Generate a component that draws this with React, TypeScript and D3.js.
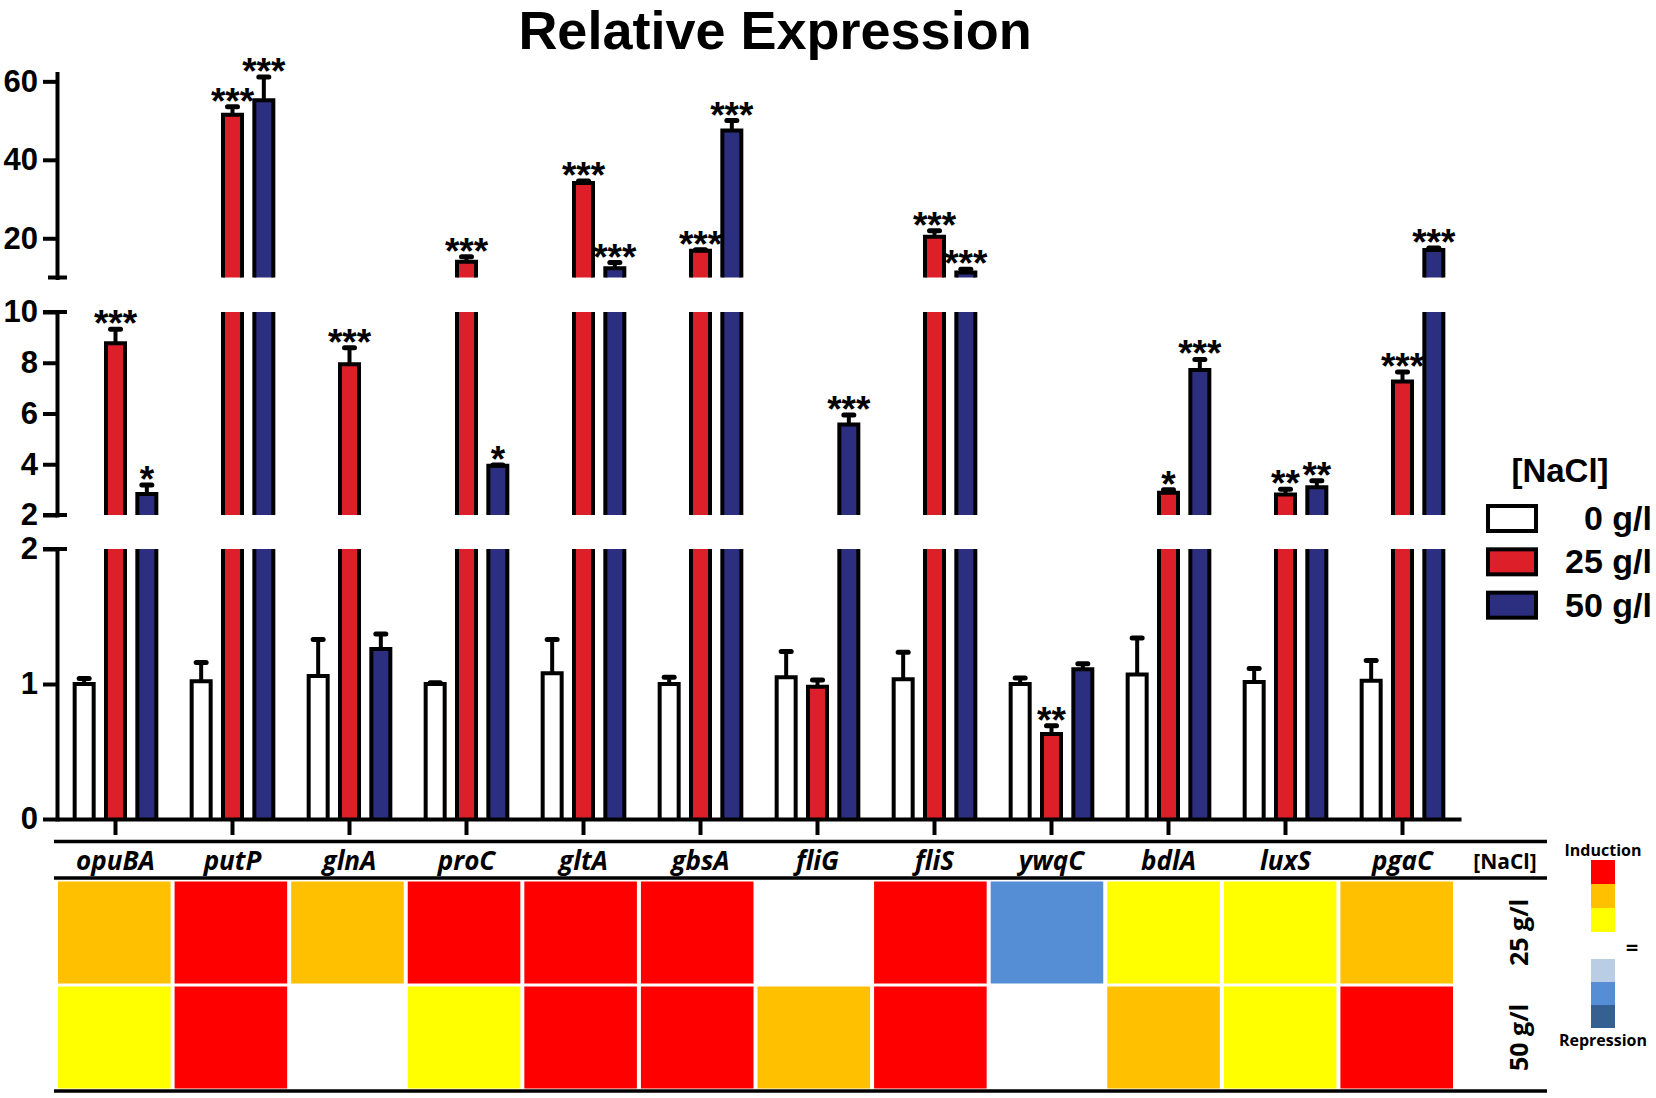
import React, { useEffect, useRef } from 'react';
import * as d3 from 'd3';

// genes on the x axis
const genes = ['opuBA', 'putP', 'glnA', 'proC', 'gltA', 'gbsA', 'fliG', 'fliS', 'ywqC', 'bdlA', 'luxS', 'pgaC'];
const conditions = ['0 g/l', '25 g/l', '50 g/l'];

// relative expression (mean) and SEM per NaCl concentration
const mean0 = [1.0, 1.02, 1.06, 1.0, 1.08, 1.0, 1.05, 1.035, 1.0, 1.07, 1.015, 1.025];
const sem0 = [0.04, 0.14, 0.27, 0.01, 0.25, 0.05, 0.19, 0.2, 0.045, 0.27, 0.1, 0.15];
const mean25 = [8.77, 51.5, 7.94, 14.0, 34.1, 16.8, 0.98, 20.4, 0.63, 2.88, 2.81, 7.26];
const sem25 = [0.55, 2.0, 0.65, 1.3, 0.5, 0.25, 0.05, 1.5, 0.06, 0.12, 0.2, 0.38];
const mean50 = [2.83, 55.2, 1.26, 3.94, 12.35, 47.5, 5.57, 11.3, 1.11, 7.71, 3.09, 17.0];
const sem50 = [0.35, 5.9, 0.11, 0.03, 1.45, 2.5, 0.37, 0.8, 0.04, 0.42, 0.26, 0.5];

// significance marks
const sig25 = ['***', '***', '***', '***', '***', '***', '', '***', '**', '*', '**', '***'];
const sig50 = ['*', '***', '', '*', '***', '***', '***', '***', '', '***', '**', '***'];

// heat map levels: 3..1 induction, 0 unchanged, -1..-3 repression
const heatRows = ['25 g/l', '50 g/l'];
const heat25 = [2, 3, 2, 3, 3, 3, 0, 3, -2, 1, 1, 2];
const heat50 = [1, 3, 0, 1, 3, 3, 2, 3, 0, 2, 1, 3];
const heatLevels = [3, 2, 1, 0, -1, -2, -3];
const heatColors = ['#ff0000', '#ffc000', '#ffff00', '#ffffff', '#b9cde5', '#558ed5', '#376092'];

const barFill = ['#ffffff', '#dc1f28', '#2c2f7f'];

const App: React.FC = () => {
  const ref = useRef<SVGSVGElement>(null);

  useEffect(() => {
    if (!ref.current) return;
    const svg = d3.select(ref.current);
    svg.selectAll('*').remove();

    const font = "'Liberation Sans', Arial, sans-serif";
    const font2 = "'Open Sans', 'Noto Sans', sans-serif";

    // title
    svg.append('text')
      .attr('x', 775).attr('y', 49)
      .attr('text-anchor', 'middle')
      .style('font-family', font).style('font-weight', 'bold').style('font-size', '54px')
      .text('Relative Expression');

    // broken y axis: three segments
    const segments = [
      { y: d3.scaleLinear().domain([0, 2]).range([819, 549]), ticks: [0, 1, 2] },
      { y: d3.scaleLinear().domain([2, 10]).range([515, 312]), ticks: [2, 4, 6, 8, 10] },
      { y: d3.scaleLinear().domain([10, 62]).range([277.5, 73.5]), ticks: [20, 40, 60] },
    ];

    const x = d3.scaleBand().domain(genes).range([57, 1461]);
    const xs = d3.scaleBand().domain(conditions).range([-47, 47]);
    const barW = 19;

    const series = [
      { mean: mean0, sem: sem0, sig: genes.map(() => '') },
      { mean: mean25, sem: sem25, sig: sig25 },
      { mean: mean50, sem: sem50, sig: sig50 },
    ];

    const chart = svg.append('g');

    // bars, drawn per segment
    segments.forEach(seg => {
      const [lo, hi] = seg.y.domain();
      series.forEach((s, ci) => {
        genes.forEach((g, gi) => {
          const v = s.mean[gi];
          if (v <= lo) return;
          const cx = (x(g) as number) + x.bandwidth() / 2 + (xs(conditions[ci]) as number) + xs.bandwidth() / 2;
          const yb = seg.y(lo);
          const yt = seg.y(Math.min(v, hi));
          const closed = v <= hi;
          chart.append('rect')
            .attr('x', cx - barW / 2).attr('y', yt)
            .attr('width', barW).attr('height', yb - yt)
            .attr('fill', barFill[ci]);
          const xl = cx - barW / 2;
          const xr = cx + barW / 2;
          const d = closed
            ? `M${xl},${yb}V${yt}H${xr}V${yb}`
            : `M${xl},${yb}V${yt}M${xr},${yb}V${yt}`;
          chart.append('path')
            .attr('d', d)
            .attr('fill', 'none')
            .attr('stroke', '#000')
            .attr('stroke-width', 4)
            .attr('stroke-linejoin', 'miter');
        });
      });
    });

    // error bars and stars
    series.forEach((s, ci) => {
      genes.forEach((g, gi) => {
        const v = s.mean[gi];
        const seg = segments.find(sg => v <= sg.y.domain()[1]) || segments[2];
        const cx = (x(g) as number) + x.bandwidth() / 2 + (xs(conditions[ci]) as number) + xs.bandwidth() / 2;
        const yt = seg.y(v);
        const yc = seg.y(v + s.sem[gi]);
        chart.append('line')
          .attr('x1', cx).attr('x2', cx).attr('y1', yt).attr('y2', yc)
          .attr('stroke', '#000').attr('stroke-width', 4);
        chart.append('line')
          .attr('x1', cx - 5).attr('x2', cx + 5).attr('y1', yc).attr('y2', yc)
          .attr('stroke', '#000').attr('stroke-width', 5).attr('stroke-linecap', 'round');
        if (s.sig[gi]) {
          chart.append('text')
            .attr('x', cx).attr('y', yc + 7)
            .attr('text-anchor', 'middle')
            .style('font-family', font).style('font-weight', 'bold').style('font-size', '37px')
            .text(s.sig[gi]);
        }
      });
    });

    // y axis segments
    segments.forEach((seg, i) => {
      const ax = svg.append('g')
        .attr('transform', 'translate(57,0)')
        .call(d3.axisLeft(seg.y).tickValues(seg.ticks).tickSize(14).tickSizeOuter(0).tickPadding(5).tickFormat(d3.format('d')));
      ax.select('.domain').attr('stroke-width', 4).attr('stroke-linecap', 'square');
      ax.selectAll('.tick line').attr('stroke-width', 4);
      ax.selectAll('.tick text')
        .style('font-family', font).style('font-weight', 'bold').style('font-size', '31px');
      // caps at the break
      const [lo, hi] = seg.y.domain();
      if (i > 0) {
        ax.append('line').attr('x1', i === 2 ? -9 : -14).attr('x2', 10)
          .attr('y1', seg.y(lo)).attr('y2', seg.y(lo)).attr('stroke', '#000').attr('stroke-width', 4);
      }
      if (i < 2) {
        ax.append('line').attr('x1', -14).attr('x2', 10)
          .attr('y1', seg.y(hi)).attr('y2', seg.y(hi)).attr('stroke', '#000').attr('stroke-width', 4);
      }
    });

    // x axis
    const xa = svg.append('g')
      .attr('transform', 'translate(0,819)')
      .call(d3.axisBottom(x).tickSize(16).tickSizeOuter(0).tickFormat(() => ''));
    xa.select('.domain').attr('stroke-width', 4);
    xa.selectAll('.tick line').attr('stroke-width', 4);

    // legend
    const lg = svg.append('g');
    lg.append('text')
      .attr('x', 1560).attr('y', 482).attr('text-anchor', 'middle')
      .style('font-family', font).style('font-weight', 'bold').style('font-size', '33px')
      .text('[NaCl]');
    const ly = d3.scaleBand().domain(conditions).range([506, 636]);
    conditions.forEach((c, i) => {
      const y0 = ly(c) as number;
      lg.append('rect')
        .attr('x', 1488).attr('y', y0).attr('width', 48).attr('height', 25)
        .attr('fill', barFill[i]).attr('stroke', '#000').attr('stroke-width', 4);
      lg.append('text')
        .attr('x', 1652).attr('y', y0 + 24).attr('text-anchor', 'end')
        .style('font-family', font).style('font-weight', 'bold').style('font-size', '34px')
        .text(c);
    });

    // heat map
    const hx = d3.scaleBand().domain(genes).range([56, 1455]);
    const hy = d3.scaleBand().domain(heatRows).range([880, 1090]);
    const color = d3.scaleOrdinal<number, string>().domain(heatLevels).range(heatColors);
    const heat = [heat25, heat50];
    const hm = svg.append('g');

    heatRows.forEach((r, ri) => {
      genes.forEach((g, gi) => {
        hm.append('rect')
          .attr('x', (hx(g) as number) + 2)
          .attr('y', (hy(r) as number) + 1.5)
          .attr('width', hx.bandwidth() - 4)
          .attr('height', hy.bandwidth() - 3)
          .attr('fill', color(heat[ri][gi]));
      });
      hm.append('text')
        .attr('transform', `translate(1519,${(hy(r) as number) + hy.bandwidth() / 2}) rotate(-90)`)
        .attr('dy', '0.36em')
        .attr('text-anchor', 'middle')
        .style('font-family', font2).style('font-weight', 'bold').style('font-size', '25px')
        .text(r);
    });

    genes.forEach(g => {
      hm.append('text')
        .attr('x', (x(g) as number) + x.bandwidth() / 2).attr('y', 870)
        .attr('text-anchor', 'middle')
        .style('font-family', font2).style('font-weight', 'bold').style('font-style', 'italic').style('font-size', '26px')
        .text(g);
    });
    hm.append('text')
      .attr('x', 1505).attr('y', 869).attr('text-anchor', 'middle')
      .style('font-family', font2).style('font-weight', 'bold').style('font-size', '21px')
      .text('[NaCl]');

    [841.5, 878, 1091].forEach(yy => {
      hm.append('line')
        .attr('x1', 54).attr('x2', 1547).attr('y1', yy).attr('y2', yy)
        .attr('stroke', '#000').attr('stroke-width', 3.5);
    });

    // heat map key
    const key = svg.append('g');
    const kUp = d3.scaleBand<number>().domain(heatLevels.slice(0, 3)).range([860, 932]);
    const kDown = d3.scaleBand<number>().domain(heatLevels.slice(4)).range([959, 1028]);
    heatLevels.slice(0, 3).forEach(l => {
      key.append('rect').attr('x', 1591).attr('y', kUp(l) as number)
        .attr('width', 24).attr('height', kUp.bandwidth()).attr('fill', color(l));
    });
    heatLevels.slice(4).forEach(l => {
      key.append('rect').attr('x', 1591).attr('y', kDown(l) as number)
        .attr('width', 24).attr('height', kDown.bandwidth()).attr('fill', color(l));
    });
    key.append('text').attr('x', 1603).attr('y', 856).attr('text-anchor', 'middle')
      .style('font-family', font2).style('font-weight', 'bold').style('font-size', '16px')
      .text('Induction');
    key.append('text').attr('x', 1632).attr('y', 955).attr('text-anchor', 'middle')
      .style('font-family', font2).style('font-weight', 'bold').style('font-size', '22px')
      .text('=');
    key.append('text').attr('x', 1603).attr('y', 1046).attr('text-anchor', 'middle')
      .style('font-family', font2).style('font-weight', 'bold').style('font-size', '16px')
      .text('Repression');
  }, []);

  return (
    <svg
      ref={ref}
      width={1656}
      height={1098}
      style={{ position: 'absolute', left: 0, top: 0, background: '#fff', display: 'block' }}
    />
  );
};

export default App;
